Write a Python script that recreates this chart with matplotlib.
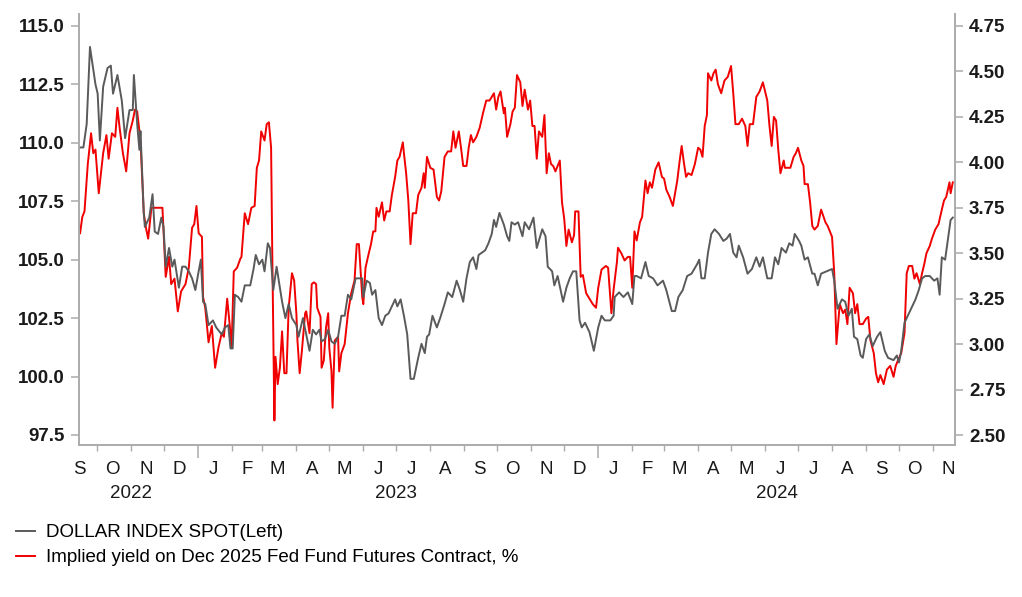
import numpy as np
import pandas as pd
import matplotlib
matplotlib.use('Agg')
import matplotlib.pyplot as plt
import matplotlib.dates as mdates
import matplotlib.transforms as mtransforms
from matplotlib import font_manager

# values, x given as days after 15 Sep 2022
START = pd.Timestamp('2022-09-15')

dxy_day = [
    1, 4, 7, 10, 15, 17, 19, 22, 26, 29,
    31, 35, 39, 42, 46, 49, 50, 53, 55, 56,
    59, 60, 64, 67, 69, 72, 75, 77, 79, 82,
    85, 87, 91, 94, 97, 100, 103, 106, 109, 111,
    113, 115, 118, 122, 125, 130, 133, 136, 138, 140,
    142, 145, 148, 151, 156, 159, 161, 164, 167, 169,
    172, 174, 177, 180, 185, 188, 191, 194, 198, 200,
    204, 207, 210, 213, 216, 219, 221, 224, 227, 230,
    233, 236, 239, 242, 245, 248, 252, 258, 259, 262,
    265, 267, 270, 273, 276, 279, 282, 285, 288, 290,
    293, 296, 299, 302, 305, 309, 312, 315, 317, 319,
    322, 326, 329, 333, 336, 340, 344, 347, 350, 353,
    356, 359, 362, 364, 367, 370, 373, 376, 378, 380,
    383, 387, 390, 392, 394, 397, 400, 404, 406, 410,
    414, 417, 422, 425, 427, 431, 433, 436, 441, 444,
    447, 450, 453, 456, 458, 461, 465, 469, 473, 476,
    479, 484, 487, 488, 492, 496, 500, 504, 506, 508,
    512, 516, 519, 523, 527, 532, 535, 540, 543, 546,
    550, 554, 558, 563, 565, 567, 570, 573, 576, 579,
    583, 587, 590, 593, 596, 599, 601, 605, 609, 613,
    617, 620, 623, 627, 631, 634, 637, 640, 644, 647,
    650, 652, 656, 658, 661, 664, 668, 670, 673, 676,
    681, 686, 688, 691, 692, 695, 698, 701, 704, 706,
    709, 712, 714, 717, 720, 723, 727, 730, 734, 737,
    742, 745, 747, 749, 752, 755, 759, 762, 765, 768,
    771, 775, 779, 782, 784, 786, 789, 792, 794, 796,
]
dxy_val = [
    109.8, 109.8, 110.8, 114.1, 112.5, 112.1, 110.1, 112.4, 113.2, 113.3,
    112.1, 112.9, 111.8, 110.2, 111.4, 111.4, 112.9, 110.8, 109.7, 110.5,
    107.0, 106.4, 106.8, 107.8, 106.2, 106.1, 106.8, 106.4, 104.7, 105.5,
    104.7, 105.0, 103.8, 104.7, 104.7, 104.5, 104.2, 103.7, 104.5, 105.0,
    103.2, 103.1, 102.2, 102.4, 102.1, 101.8, 102.1, 102.2, 101.2, 101.2,
    103.5, 103.4, 103.2, 103.9, 103.9, 104.6, 105.2, 104.8, 105.0, 104.5,
    105.7, 105.5, 103.7, 104.7, 103.2, 102.5, 103.1, 102.5, 102.2, 101.7,
    102.5, 101.8, 101.1, 102.0, 101.8, 102.0, 101.5, 101.6, 102.0, 101.5,
    101.4, 101.7, 102.6, 102.6, 103.5, 103.3, 104.2, 104.2, 103.4, 104.1,
    104.0, 103.5, 103.7, 102.5, 102.2, 102.6, 102.7, 103.0, 103.3, 103.0,
    103.3, 102.6, 101.8, 99.9, 99.9, 100.8, 101.4, 101.0, 101.7, 101.8,
    102.6, 102.1, 102.5, 103.1, 103.6, 103.4, 104.1, 103.7, 103.2, 104.2,
    104.9, 105.1, 104.6, 105.2, 105.3, 105.4, 105.7, 106.1, 106.7, 106.4,
    107.0, 106.5, 106.0, 105.8, 106.6, 106.5, 106.6, 106.0, 106.6, 106.3,
    106.8, 105.5, 106.3, 106.0, 104.7, 104.5, 103.9, 104.3, 103.2, 103.8,
    104.2, 104.5, 104.5, 102.4, 102.1, 102.3, 101.9, 101.1, 102.1, 102.6,
    102.4, 102.4, 102.6, 103.4, 103.6, 103.4, 103.6, 103.1, 104.3, 104.3,
    104.2, 104.9, 104.3, 104.2, 103.9, 104.1, 103.7, 102.8, 102.8, 103.4,
    103.7, 104.3, 104.4, 104.8, 105.0, 104.2, 104.2, 105.3, 106.1, 106.3,
    106.1, 105.8, 105.9, 106.1, 105.3, 105.1, 105.6, 105.1, 104.4, 104.6,
    105.1, 104.7, 105.1, 104.2, 104.2, 105.1, 104.8, 105.5, 105.3, 105.7,
    105.6, 106.1, 105.8, 105.6, 105.0, 105.1, 104.4, 104.4, 103.9, 104.4,
    104.5, 104.6, 104.1, 102.9, 103.0, 103.3, 103.2, 102.6, 102.9, 101.7,
    101.6, 100.9, 100.8, 101.6, 101.8, 101.3, 101.7, 101.9, 101.1, 100.8,
    100.7, 100.9, 100.6, 101.1, 102.3, 102.6, 103.0, 103.3, 103.7, 104.2,
    104.3, 104.3, 104.1, 104.2, 103.5, 105.1, 105.0, 106.0, 106.7, 106.8,
]

ff_day = [
    1, 3, 5, 8, 11, 13, 15, 18, 22, 25,
    27, 30, 33, 35, 37, 40, 43, 46, 49, 51,
    53, 56, 59, 61, 63, 66, 69, 76, 79, 82,
    84, 87, 90, 93, 97, 100, 103, 105, 107, 109,
    112, 113, 115, 118, 121, 124, 127, 130, 132, 135,
    138, 139, 141, 144, 147, 148, 151, 154, 157, 160,
    162, 164, 166, 169, 171, 173, 175, 176, 178, 179,
    181, 183, 185, 187, 189, 191, 194, 196, 198, 199,
    201, 203, 206, 207, 210, 212, 214, 216, 217, 220,
    221, 223, 225, 227, 228, 230, 231, 233, 236, 237,
    239, 242, 245, 248, 251, 253, 255, 258, 259, 261,
    264, 266, 268, 270, 271, 273, 276, 278, 280, 283,
    285, 288, 290, 292, 295, 296, 298, 300, 302, 304,
    307, 309, 312, 314, 315, 317, 320, 323, 326, 328,
    330, 333, 336, 339, 341, 343, 346, 348, 350, 353,
    355, 357, 359, 362, 365, 368, 371, 374, 378, 380,
    382, 384, 387, 388, 390, 393, 395, 397, 399, 402,
    404, 406, 409, 411, 413, 415, 417, 419, 422, 424,
    426, 428, 430, 432, 434, 438, 440, 442, 444, 446,
    449, 451, 452, 455, 457, 459, 462, 465, 468, 471,
    473, 476, 480, 482, 485, 487, 490, 491, 494, 497,
    500, 502, 504, 506, 508, 511, 513, 516, 518, 520,
    522, 525, 528, 531, 533, 535, 538, 541, 545, 547,
    549, 551, 553, 555, 558, 561, 564, 566, 568, 570,
    572, 573, 576, 578, 580, 582, 585, 588, 591, 594,
    596, 598, 601, 604, 607, 609, 611, 614, 617, 620,
    623, 627, 629, 631, 633, 635, 637, 639, 642, 643,
    648, 651, 653, 655, 658, 660, 661, 664, 666, 668,
    670, 673, 676, 680, 682, 686, 688, 690, 692, 693,
    696, 698, 700, 702, 705, 707, 709, 711, 714, 717,
    719, 721, 724, 726, 728, 730, 733, 736, 739, 742,
    744, 746, 749, 752, 754, 756, 759, 761, 763, 766,
    768, 770, 772, 775, 777, 780, 783, 786, 788, 790,
    793, 794, 796,
]
ff_val = [
    3.61, 3.70, 3.73, 3.99, 4.16, 4.05, 4.07, 3.83, 4.05, 4.15,
    4.02, 4.16, 4.14, 4.30, 4.19, 4.05, 3.95, 4.16, 4.23, 4.29,
    4.28, 4.12, 3.72, 3.64, 3.58, 3.75, 3.75, 3.75, 3.37, 3.48,
    3.33, 3.36, 3.18, 3.29, 3.33, 3.42, 3.64, 3.66, 3.76, 3.61,
    3.59, 3.26, 3.20, 3.01, 3.10, 2.87, 2.98, 3.06, 3.04, 3.25,
    3.06, 2.98, 3.40, 3.42, 3.47, 3.48, 3.72, 3.66, 3.75, 3.76,
    3.97, 4.01, 4.17, 4.12, 4.21, 4.22, 4.08, 3.53, 2.58, 2.93,
    2.78, 2.87, 3.07, 2.84, 2.84, 3.20, 3.39, 3.35, 3.17, 3.02,
    2.84, 2.96, 3.17, 3.18, 3.06, 3.33, 3.34, 3.33, 3.20, 3.15,
    2.87, 2.91, 3.09, 3.17, 2.98, 2.85, 2.65, 3.02, 3.04, 2.85,
    2.95, 3.00, 3.17, 3.28, 3.35, 3.55, 3.55, 3.26, 3.22, 3.42,
    3.50, 3.55, 3.62, 3.62, 3.75, 3.70, 3.78, 3.68, 3.73, 3.73,
    3.82, 3.92, 4.01, 4.03, 4.11, 4.05, 3.94, 3.79, 3.55, 3.72,
    3.72, 3.82, 3.86, 3.94, 3.86, 4.03, 3.97, 3.96, 3.81, 3.79,
    3.84, 4.03, 4.06, 4.06, 4.17, 4.08, 4.17, 4.08, 3.98, 3.98,
    4.08, 4.15, 4.11, 4.14, 4.19, 4.27, 4.34, 4.34, 4.38, 4.29,
    4.36, 4.39, 4.27, 4.30, 4.14, 4.21, 4.28, 4.30, 4.48, 4.44,
    4.31, 4.40, 4.29, 4.34, 4.20, 4.20, 4.02, 4.17, 4.14, 4.26,
    3.94, 4.05, 3.99, 3.98, 3.95, 4.01, 3.78, 3.69, 3.54, 3.63,
    3.56, 3.60, 3.73, 3.73, 3.37, 3.38, 3.28, 3.25, 3.22, 3.20,
    3.31, 3.41, 3.43, 3.42, 3.17, 3.30, 3.45, 3.53, 3.50, 3.46,
    3.48, 3.48, 3.31, 3.62, 3.57, 3.67, 3.70, 3.90, 3.83, 3.89,
    3.86, 3.96, 4.00, 3.92, 3.91, 3.85, 3.81, 3.76, 3.90, 4.00,
    4.09, 4.00, 3.92, 3.94, 3.93, 3.99, 4.08, 4.07, 4.03, 4.20,
    4.26, 4.49, 4.45, 4.49, 4.51, 4.43, 4.38, 4.45, 4.47, 4.53,
    4.38, 4.21, 4.21, 4.24, 4.20, 4.09, 4.21, 4.21, 4.36, 4.39,
    4.44, 4.34, 4.20, 4.09, 4.25, 4.23, 4.07, 3.94, 4.01, 3.97,
    3.97, 4.03, 4.05, 4.08, 4.01, 3.98, 3.88, 3.88, 3.78, 3.65,
    3.63, 3.65, 3.74, 3.67, 3.65, 3.59, 3.39, 3.00, 3.15, 3.22,
    3.17, 3.19, 3.11, 3.31, 3.28, 3.17, 3.22, 3.11, 3.11, 3.14,
    3.15, 3.02, 2.95, 2.84, 2.79, 2.83, 2.78, 2.86, 2.88, 2.82,
    2.88, 2.91, 2.95, 3.06, 3.39, 3.43, 3.43, 3.36, 3.39, 3.33,
    3.39, 3.44, 3.50, 3.54, 3.58, 3.63, 3.66, 3.74, 3.79, 3.81,
    3.89, 3.83, 3.89,
]

left_ticks = [97.5, 100.0, 102.5, 105.0, 107.5, 110.0, 112.5, 115.0]
right_ticks = [2.50, 2.75, 3.00, 3.25, 3.50, 3.75, 4.00, 4.25, 4.50, 4.75]
years = ['2022', '2023', '2024']
labels = ['DOLLAR INDEX SPOT(Left)',
          'Implied yield on Dec 2025 Fed Fund Futures Contract, %']

names = {f.name for f in font_manager.fontManager.ttflist}
narrow = 'Liberation Sans Narrow' if 'Liberation Sans Narrow' in names else 'Liberation Sans'
plt.rcParams['font.family'] = ['Liberation Sans', 'DejaVu Sans']

GRAY = '#5a5a5a'
RED = '#f00000'
AXC = '#ababab'

dxy_x = START + pd.to_timedelta(dxy_day, unit='D')
ff_x = START + pd.to_timedelta(ff_day, unit='D')

fig = plt.figure(figsize=(10.22, 5.97), dpi=100)
ax = fig.add_axes([79 / 1022, 1 - 445 / 597, 876 / 1022, 431 / 597])
ax2 = ax.twinx()

l1, = ax.plot(dxy_x, dxy_val, color=GRAY, lw=1.4)
l2, = ax2.plot(ff_x, ff_val, color=RED, lw=1.4)
ax.set_zorder(ax2.get_zorder() + 1)
ax.patch.set_visible(False)

ax.set_xlim(START, pd.Timestamp('2024-11-21'))
ax.set_ylim(97.07, 115.51)
ax2.set_ylim(2.445, 4.816)

ax.set_yticks(left_ticks)
ax.set_yticklabels([f'{v:.1f}' for v in left_ticks])
ax2.set_yticks(right_ticks)
ax2.set_yticklabels([f'{v:.2f}' for v in right_ticks])

for a in (ax, ax2):
    a.spines['top'].set_visible(False)
    for s in ('left', 'right', 'bottom'):
        a.spines[s].set_color(AXC)
        a.spines[s].set_linewidth(1.2)
    a.tick_params(axis='y', direction='out', length=6, width=1.1, color=AXC,
                  labelsize=13.5, labelcolor='#1a1a1a', pad=4)
for t in ax.get_yticklabels() + ax2.get_yticklabels():
    t.set_fontweight('bold')

ax.xaxis.set_major_locator(mdates.YearLocator())
ax.xaxis.set_minor_locator(mdates.MonthLocator())
ax.xaxis.set_major_formatter(plt.NullFormatter())
ax.tick_params(axis='x', which='major', direction='out', length=9, width=1.1, color=AXC)
ax.tick_params(axis='x', which='minor', direction='out', length=4, width=1.0, color=AXC)

trans = mtransforms.blended_transform_factory(ax.transData, ax.transAxes)
mids = pd.date_range('2022-09-01', '2024-11-01', freq='MS') + pd.Timedelta(days=14)
for m in mids:
    ax.text(m, -0.056, m.strftime('%b')[0], transform=trans, ha='center', va='center',
            fontsize=13.5, family=narrow, color='#1a1a1a')
year_pos = [pd.Timestamp('2022-11-01'), pd.Timestamp('2023-07-01'), pd.Timestamp('2024-06-12')]
for yp, yl in zip(year_pos, years):
    ax.text(yp, -0.113, yl, transform=trans, ha='center', va='center',
            fontsize=13.5, family=narrow, color='#1a1a1a')

fig.legend([l1, l2], labels, loc='upper left', bbox_to_anchor=(16 / 1022, 1 - 524 / 597),
           frameon=False, handlelength=1.0, handletextpad=0.6, labelspacing=0.42,
           borderpad=0, borderaxespad=0, prop={'family': narrow, 'size': 13.5})

fig.savefig('out.png', dpi=100)
